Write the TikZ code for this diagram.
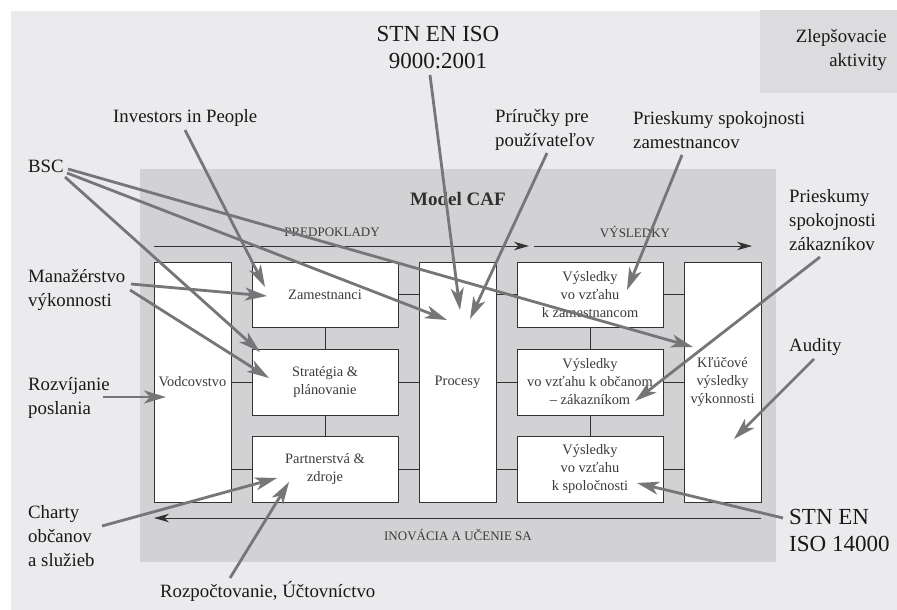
\documentclass[tikz,border=0pt]{standalone}
\usepackage{fontspec}
\setmainfont{Liberation Serif}
\usetikzlibrary{arrows.meta}
\definecolor{pagebg}{RGB}{235,235,237}
\definecolor{cafbg}{RGB}{210,210,212}
\definecolor{notebg}{RGB}{220,220,222}
\definecolor{arrgray}{RGB}{118,118,120}
\definecolor{frame}{RGB}{50,50,50}
\definecolor{ink}{RGB}{25,25,25}

\begin{document}
\begin{tikzpicture}[x=1pt,y=-1pt,
  box/.style={draw=frame, fill=white, line width=0.9pt, inner sep=0pt, outer sep=0pt,
    font=\fontsize{14.4}{18}\selectfont, text=ink!85, align=center},
  link/.style={draw=frame, line width=0.9pt},
  flow/.style={draw=frame, line width=0.9pt, -{Stealth[length=15pt,width=8.5pt,inset=4.5pt]}},
  feed/.style={draw=arrgray, line width=2.8pt, -{Stealth[length=22pt,width=13pt,inset=6pt]}},
  lbl/.style={font=\fontsize{18.8}{24}\selectfont, text=ink, inner sep=0pt, align=left},
  big/.style={font=\fontsize{23}{27}\selectfont, text=ink, inner sep=0pt, align=left},
  flowlbl/.style={font=\fontsize{13}{16}\selectfont, text=ink!85, inner sep=0pt}]

\useasboundingbox (0,0) rectangle (897,610);
\fill[white] (0,0) rectangle (897,610);
\fill[pagebg] (11,11) rectangle (897,610);
\fill[notebg] (760,10) rectangle (897,93);
\fill[cafbg] (140,169) rectangle (776,562);

% model boxes
\node[box, minimum width=77pt, minimum height=240pt] (vod) at (192.5,382) {Vodcovstvo};
\node[box, minimum width=146pt, minimum height=65pt] (zam) at (325,294.5) {Zamestnanci};
\node[box, minimum width=146pt, minimum height=66pt] (str) at (325,382) {Stratégia \&\\plánovanie};
\node[box, minimum width=146pt, minimum height=66pt] (par) at (325,469) {Partnerstvá \&\\zdroje};
\node[box, minimum width=77pt, minimum height=240pt] (pro) at (457.5,382) {Procesy};
\node[box, minimum width=146pt, minimum height=65pt] (vz) at (590,294.5) {Výsledky\\vo vzťahu\\k zamestnancom};
\node[box, minimum width=146pt, minimum height=66pt] (vo) at (590,382) {Výsledky\\vo vzťahu k občanom\\– zákazníkom};
\node[box, minimum width=146pt, minimum height=66pt] (vs) at (590,469) {Výsledky\\vo vzťahu\\k spoločnosti};
\node[box, minimum width=77pt, minimum height=240pt] (kl) at (722.5,382) {Kľúčové\\výsledky\\výkonnosti};

% links between boxes
\draw[link] (vod.east |- str.west) -- (str.west);
\draw[link] (vod.east |- par.west) -- (par.west);
\draw[link] (zam.east) -- (zam.east -| pro.west);
\draw[link] (str.east) -- (str.east -| pro.west);
\draw[link] (par.east) -- (par.east -| pro.west);
\draw[link] (zam.south) -- (str.north);
\draw[link] (str.south) -- (par.north);
\draw[link] (pro.east |- vz.west) -- (vz.west);
\draw[link] (pro.east |- vo.west) -- (vo.west);
\draw[link] (pro.east |- vs.west) -- (vs.west);
\draw[link] (vz.east) -- (vz.east -| kl.west);
\draw[link] (vo.east) -- (vo.east -| kl.west);
\draw[link] (vs.east) -- (vs.east -| kl.west);
\draw[link] (vz.south) -- (vo.north);
\draw[link] (vo.south) -- (vs.north);

% flow arrows
\coordinate (pa) at (154,246); \coordinate (pb) at (529,246);
\coordinate (va) at (534,246); \coordinate (vb) at (752,246);
\coordinate (ia) at (761,518); \coordinate (ib) at (154,518);
\draw[flow] (pa) -- (pb);
\draw[flow] (va) -- (vb);
\draw[flow] (ia) -- (ib);

\node[flowlbl] (tpred) at (332,232) {PREDPOKLADY};
\node[flowlbl] (tvys) at (635,232) {VÝSLEDKY};
\node[flowlbl] (tino) at (458,535) {INOVÁCIA A UČENIE SA};
\node[font=\fontsize{19}{22}\selectfont\bfseries, text=ink!90, inner sep=0pt] (caf) at (458,199) {Model CAF};

% outside labels
\node[lbl, anchor=west] (bsc) at (28,166) {BSC};
\node[lbl, anchor=west] (man) at (28,290) {Manažérstvo\\výkonnosti};
\node[lbl, anchor=west] (roz) at (28,398) {Rozvíjanie\\poslania};
\node[lbl, anchor=west] (cha) at (28,536) {Charty\\občanov\\a služieb};
\node[lbl, anchor=west] (rozp) at (160,591) {Rozpočtovanie, Účtovníctvo};
\node[lbl, anchor=west] (inv) at (113,118) {Investors in People};
\node[big, align=center] (stn9) at (438,48) {STN EN ISO\\9000:2001};
\node[lbl, anchor=west] (pri) at (495,130) {Príručky pre\\používateľov};
\node[lbl, anchor=west] (pzam) at (633,130) {Prieskumy spokojnosti\\zamestnancov};
\node[lbl, anchor=west] (pzak) at (789,220) {Prieskumy\\spokojnosti\\zákazníkov};
\node[lbl, anchor=west] (aud) at (789,347) {Audity};
\node[big, anchor=west] (stn14) at (789,530) {STN EN\\ISO 14000};
\node[lbl, align=right, anchor=east] (zlep) at (887,50) {Zlepšovacie\\aktivity};

% arrow ends
\coordinate (s1) at (68,169);  \coordinate (t1) at (693,347);
\coordinate (s2) at (67,173);  \coordinate (t2) at (447,320);
\coordinate (s3) at (65,177);  \coordinate (t3) at (260,352);
\coordinate (s4) at (185,130); \coordinate (t4) at (265,287);
\coordinate (s5) at (131,284); \coordinate (t5) at (267,296);
\coordinate (s6) at (130,290); \coordinate (t6) at (269,378);
\coordinate (s7) at (103,397); \coordinate (t7) at (166,397);
\coordinate (s8) at (102,526); \coordinate (t8) at (277,478);
\coordinate (s9) at (230,578); \coordinate (t9) at (289,482);
\coordinate (s10) at (430,75); \coordinate (t10) at (460,310);
\coordinate (s11) at (547,153); \coordinate (t11) at (470,319);
\coordinate (s12) at (682,155); \coordinate (t12) at (627,290);
\coordinate (s13) at (820,257); \coordinate (t13) at (635,401);
\coordinate (s14) at (814,359); \coordinate (t14) at (734,439);
\coordinate (s15) at (783,518); \coordinate (t15) at (637,483);

\foreach \i in {1,...,15} {\draw[feed] (s\i) -- (t\i);}
\end{tikzpicture}
\end{document}
